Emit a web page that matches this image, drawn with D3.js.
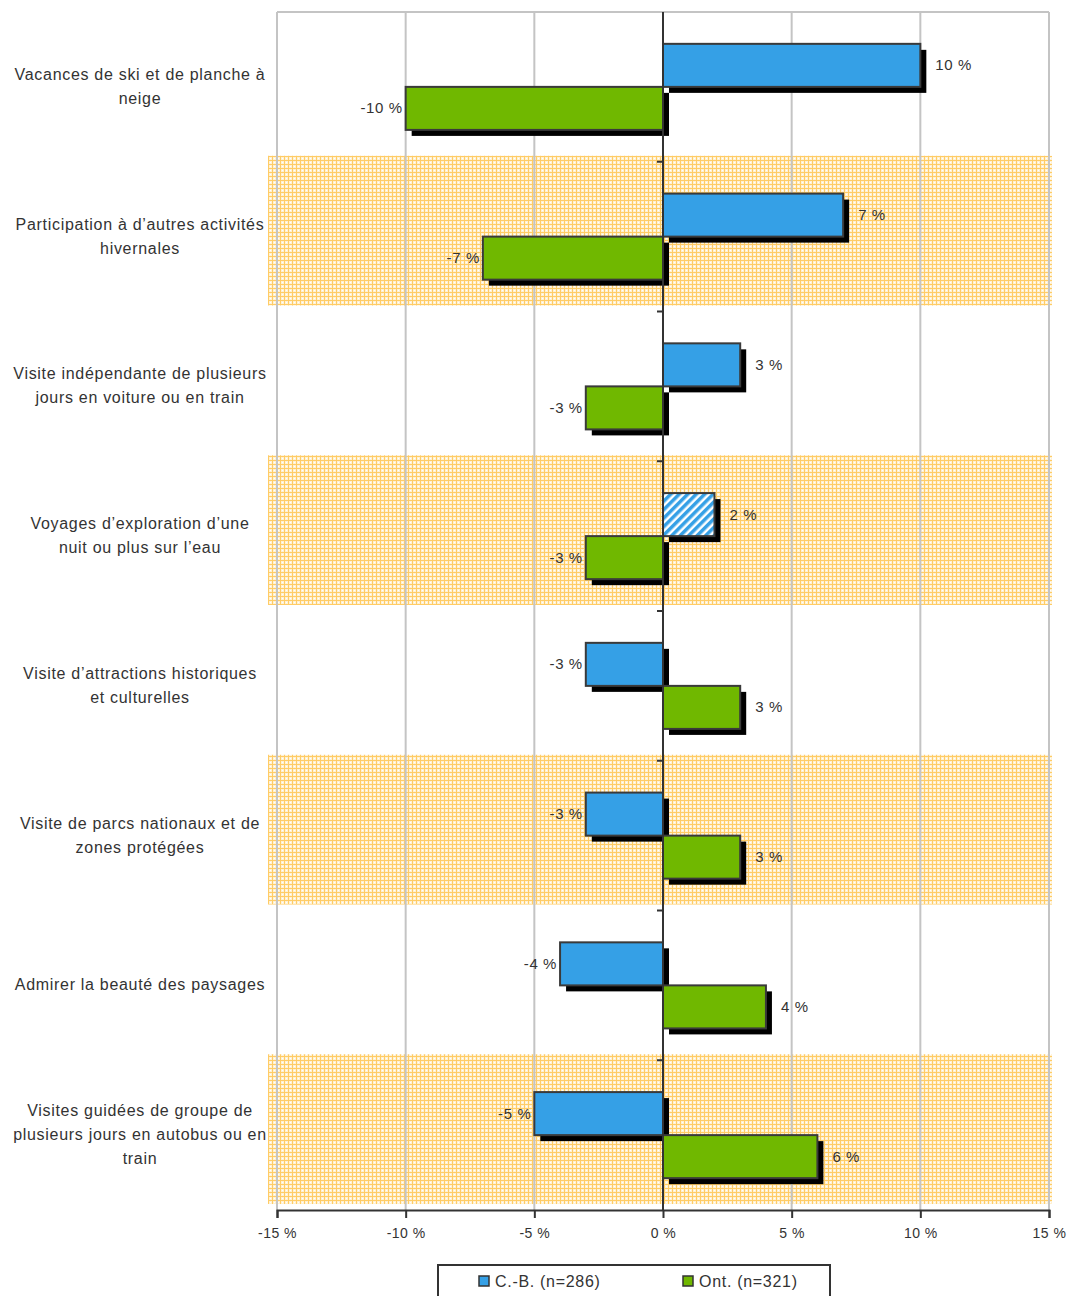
<!DOCTYPE html>
<html>
<head>
<meta charset="utf-8">
<script src="https://cdn.jsdelivr.net/npm/d3@7"></script>
<style>
body { margin: 0; background: #fff; }
svg { display: block; font-family: "Liberation Sans", Arial, sans-serif; }
</style>
</head>
<body>
<div id="chart"></div>
<script>
// categories, each split into the lines shown in the picture
var categories = [
    ['Vacances de ski et de planche à', 'neige'],
    ['Participation à d\u2019autres activités', 'hivernales'],
    ['Visite indépendante de plusieurs', 'jours en voiture ou en train'],
    ['Voyages d\u2019exploration d\u2019une', 'nuit ou plus sur l\u2019eau'],
    ['Visite d\u2019attractions historiques', 'et culturelles'],
    ['Visite de parcs nationaux et de', 'zones protégées'],
    ['Admirer la beauté des paysages'],
    ['Visites guidées de groupe de', 'plusieurs jours en autobus ou en', 'train']
];
var cbValues = [10, 7, 3, 2, -3, -3, -4, -5];
var ontValues = [-10, -7, -3, -3, 3, 3, 4, 6];
// bars drawn hatched (not significant)
var cbHatched = [false, false, false, true, false, false, false, false];
var xTicks = [-15, -10, -5, 0, 5, 10, 15];
var seriesNames = ['C.-B. (n=286)', 'Ont. (n=321)'];

var width = 1067;
var height = 1296;
var colors = { cb: '#35a0e6', ont: '#70b800' };

var svg = d3.select('#chart').append('svg')
    .attr('width', width)
    .attr('height', height);

var defs = svg.append('defs');

// plaid fill of the alternate rows
var plaid = defs.append('pattern')
    .attr('id', 'plaid')
    .attr('patternUnits', 'userSpaceOnUse')
    .attr('width', 4).attr('height', 4);
plaid.append('rect').attr('width', 4).attr('height', 4).attr('fill', '#fff1d2');
plaid.append('rect').attr('x', 0).attr('width', 1).attr('height', 4).attr('fill', '#ffcc66');
plaid.append('rect').attr('y', 0).attr('width', 4).attr('height', 1).attr('fill', '#ffcc66');
plaid.append('rect').attr('x', 2).attr('y', 2).attr('width', 1).attr('height', 1).attr('fill', '#ffffff');

// diagonal hatching for the non-significant bar
var hatch = defs.append('pattern')
    .attr('id', 'hatch')
    .attr('patternUnits', 'userSpaceOnUse')
    .attr('width', 6).attr('height', 6)
    .attr('patternTransform', 'rotate(45)');
hatch.append('rect').attr('width', 6).attr('height', 6).attr('fill', '#ffffff');
hatch.append('rect').attr('width', 3.5).attr('height', 6).attr('fill', colors.cb);

var x = d3.scaleLinear()
    .domain([-15, 15])
    .range([277, 1049]);

var y = d3.scaleBand()
    .domain(d3.range(categories.length))
    .range([12, 1210]);

var ySub = d3.scaleBand()
    .domain(['cb', 'ont'])
    .range([0, y.bandwidth()])
    .paddingOuter(0.74);

// shaded alternate rows
svg.append('g').selectAll('rect')
    .data(categories.filter(function (d, i) { return i % 2 === 1; }))
    .join('rect')
    .attr('x', 268)
    .attr('width', 784)
    .attr('y', function (d) { return y(categories.indexOf(d)) - 6; })
    .attr('height', y.bandwidth())
    .attr('fill', 'url(#plaid)');

// grid lines
svg.append('g').selectAll('line')
    .data(xTicks.filter(function (d) { return d !== 0; }))
    .join('line')
    .attr('x1', function (d) { return x(d); })
    .attr('x2', function (d) { return x(d); })
    .attr('y1', 12)
    .attr('y2', 1210)
    .attr('stroke', '#c4c4c4')
    .attr('stroke-width', 2);

svg.append('line')
    .attr('x1', x(-15)).attr('x2', x(15))
    .attr('y1', 12).attr('y2', 12)
    .attr('stroke', '#c4c4c4')
    .attr('stroke-width', 2);

// bars
var rows = categories.map(function (c, i) {
    return [
        { key: 'cb', i: i, v: cbValues[i], hatched: cbHatched[i] },
        { key: 'ont', i: i, v: ontValues[i], hatched: false }
    ];
});
var bars = d3.merge(rows);

var barGroup = svg.append('g');

// shadows first
barGroup.selectAll('rect.shadow')
    .data(bars)
    .join('rect')
    .attr('class', 'shadow')
    .attr('x', function (d) { return Math.min(x(0), x(d.v)) + 6; })
    .attr('y', function (d) { return y(d.i) + ySub(d.key) + 6; })
    .attr('width', function (d) { return Math.abs(x(d.v) - x(0)); })
    .attr('height', ySub.bandwidth())
    .attr('fill', '#000');

barGroup.selectAll('rect.bar')
    .data(bars)
    .join('rect')
    .attr('class', 'bar')
    .attr('x', function (d) { return Math.min(x(0), x(d.v)); })
    .attr('y', function (d) { return y(d.i) + ySub(d.key); })
    .attr('width', function (d) { return Math.abs(x(d.v) - x(0)); })
    .attr('height', ySub.bandwidth())
    .attr('fill', function (d) { return d.hatched ? 'url(#hatch)' : colors[d.key]; })
    .attr('stroke', '#3a3a3a')
    .attr('stroke-width', 2);

// value labels
barGroup.selectAll('text')
    .data(bars)
    .join('text')
    .attr('x', function (d) { return d.v > 0 ? x(d.v) + 15 : x(d.v) - 3; })
    .attr('y', function (d) { return y(d.i) + ySub(d.key) + ySub.bandwidth() / 2 + 5; })
    .attr('text-anchor', function (d) { return d.v > 0 ? 'start' : 'end'; })
    .attr('font-size', 15)
    .attr('letter-spacing', 0.6)
    .attr('fill', '#333')
    .text(function (d) { return d.v + ' %'; });

// zero line with row ticks
svg.append('line')
    .attr('x1', x(0)).attr('x2', x(0))
    .attr('y1', 12).attr('y2', 1210)
    .attr('stroke', '#333')
    .attr('stroke-width', 2);

svg.append('g').selectAll('line')
    .data(d3.range(1, categories.length))
    .join('line')
    .attr('x1', x(0) - 6).attr('x2', x(0))
    .attr('y1', function (d) { return y(d); })
    .attr('y2', function (d) { return y(d); })
    .attr('stroke', '#333')
    .attr('stroke-width', 2);

// bottom axis
var xAxis = d3.axisBottom(x)
    .tickValues(xTicks)
    .tickSize(8)
    .tickPadding(10)
    .tickFormat(function (d) { return d + ' %'; });

var axisG = svg.append('g')
    .attr('transform', 'translate(0, 1210)')
    .call(xAxis);
axisG.select('.domain').attr('stroke', '#333').attr('stroke-width', 2);
axisG.selectAll('.tick line').attr('stroke', '#333').attr('stroke-width', 2);
axisG.selectAll('.tick text')
    .attr('font-family', '"Liberation Sans", Arial, sans-serif')
    .attr('font-size', 14)
    .attr('letter-spacing', 0.5)
    .attr('fill', '#333');

// category labels
var labels = svg.append('g').selectAll('text')
    .data(categories)
    .join('text')
    .attr('text-anchor', 'middle')
    .attr('font-size', 16)
    .attr('letter-spacing', 0.7)
    .attr('fill', '#333');

labels.each(function (lines, i) {
    var t = d3.select(this);
    var cy = y(i) + y.bandwidth() / 2;
    lines.forEach(function (line, k) {
        t.append('tspan')
            .attr('x', 140)
            .attr('y', cy + (k - (lines.length - 1) / 2) * 24 + 5)
            .text(line);
    });
});

// legend
var legend = svg.append('g');
legend.append('rect')
    .attr('x', 438).attr('y', 1265)
    .attr('width', 392).attr('height', 50)
    .attr('fill', '#fff')
    .attr('stroke', '#333')
    .attr('stroke-width', 2);

var legendX = [479, 683];
seriesNames.forEach(function (name, k) {
    var key = k === 0 ? 'cb' : 'ont';
    legend.append('rect')
        .attr('x', legendX[k]).attr('y', 1276)
        .attr('width', 10).attr('height', 10)
        .attr('fill', colors[key])
        .attr('stroke', '#333')
        .attr('stroke-width', 1.5);
    legend.append('text')
        .attr('x', legendX[k] + 16)
        .attr('y', 1287)
        .attr('font-size', 16)
        .attr('letter-spacing', 0.7)
        .attr('fill', '#333')
        .text(name);
});
</script>
</body>
</html>
